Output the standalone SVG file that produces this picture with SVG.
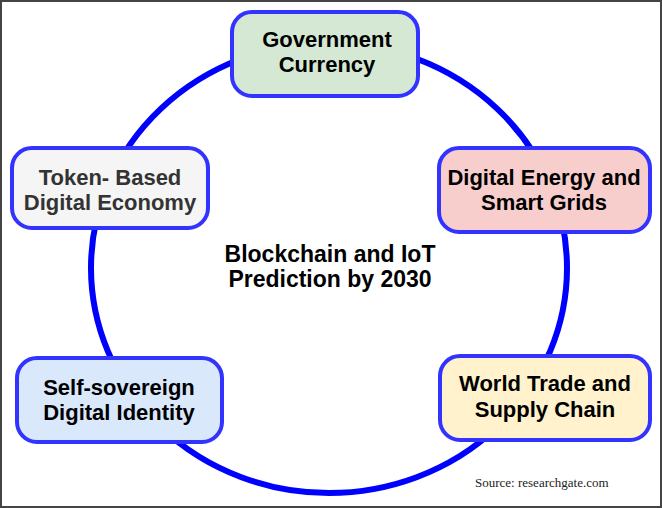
<svg xmlns="http://www.w3.org/2000/svg" width="662" height="508" viewBox="0 0 662 508">
<style>
.node rect{stroke:#3333ff;stroke-width:4}
.lbl{font-family:"Liberation Sans",Arial,Helvetica,sans-serif;font-weight:bold;font-size:22px;text-anchor:middle;fill:#000}
.center{font-family:"Liberation Sans",Arial,Helvetica,sans-serif;font-weight:bold;font-size:23px;text-anchor:middle;fill:#000}
.src{font-family:"Liberation Serif","Times New Roman",serif;font-size:13px;fill:#222}
</style>
<rect x="1" y="1" width="660" height="506" fill="#fff" stroke="#444" stroke-width="2"/>
<g id="connectors">
<ellipse cx="329" cy="268" rx="238" ry="225" fill="none" stroke="#0000ff" stroke-width="6"/>
</g>
<g id="center-title">
<text class="center" x="330" y="262">Blockchain and IoT</text>
<text class="center" x="330" y="287">Prediction by 2030</text>
</g>
<g id="government-currency" class="node">
<rect x="232" y="12" width="186" height="84" rx="20" fill="#d5e8d4"/>
<text class="lbl" x="327" y="47">Government</text>
<text class="lbl" x="327" y="72">Currency</text>
</g>
<g id="token-based" class="node">
<rect x="12" y="148" width="196" height="80" rx="20" fill="#f5f5f5"/>
<text class="lbl" x="110" y="185" style="fill:#333">Token- Based</text>
<text class="lbl" x="110" y="210" style="fill:#333">Digital Economy</text>
</g>
<g id="digital-energy" class="node">
<rect x="439" y="148" width="211" height="84" rx="20" fill="#f8cecc"/>
<text class="lbl" x="544" y="185">Digital Energy and</text>
<text class="lbl" x="544" y="210">Smart Grids</text>
</g>
<g id="self-sovereign" class="node">
<rect x="17" y="358" width="205" height="84" rx="20" fill="#dae8fc"/>
<text class="lbl" x="119" y="395">Self-sovereign</text>
<text class="lbl" x="119" y="420">Digital Identity</text>
</g>
<g id="world-trade" class="node">
<rect x="440" y="356" width="210" height="84" rx="20" fill="#fff2cc"/>
<text class="lbl" x="545" y="391">World Trade and</text>
<text class="lbl" x="545" y="417">Supply Chain</text>
</g>
<text class="src" x="475" y="487">Source: researchgate.com</text>
</svg>
